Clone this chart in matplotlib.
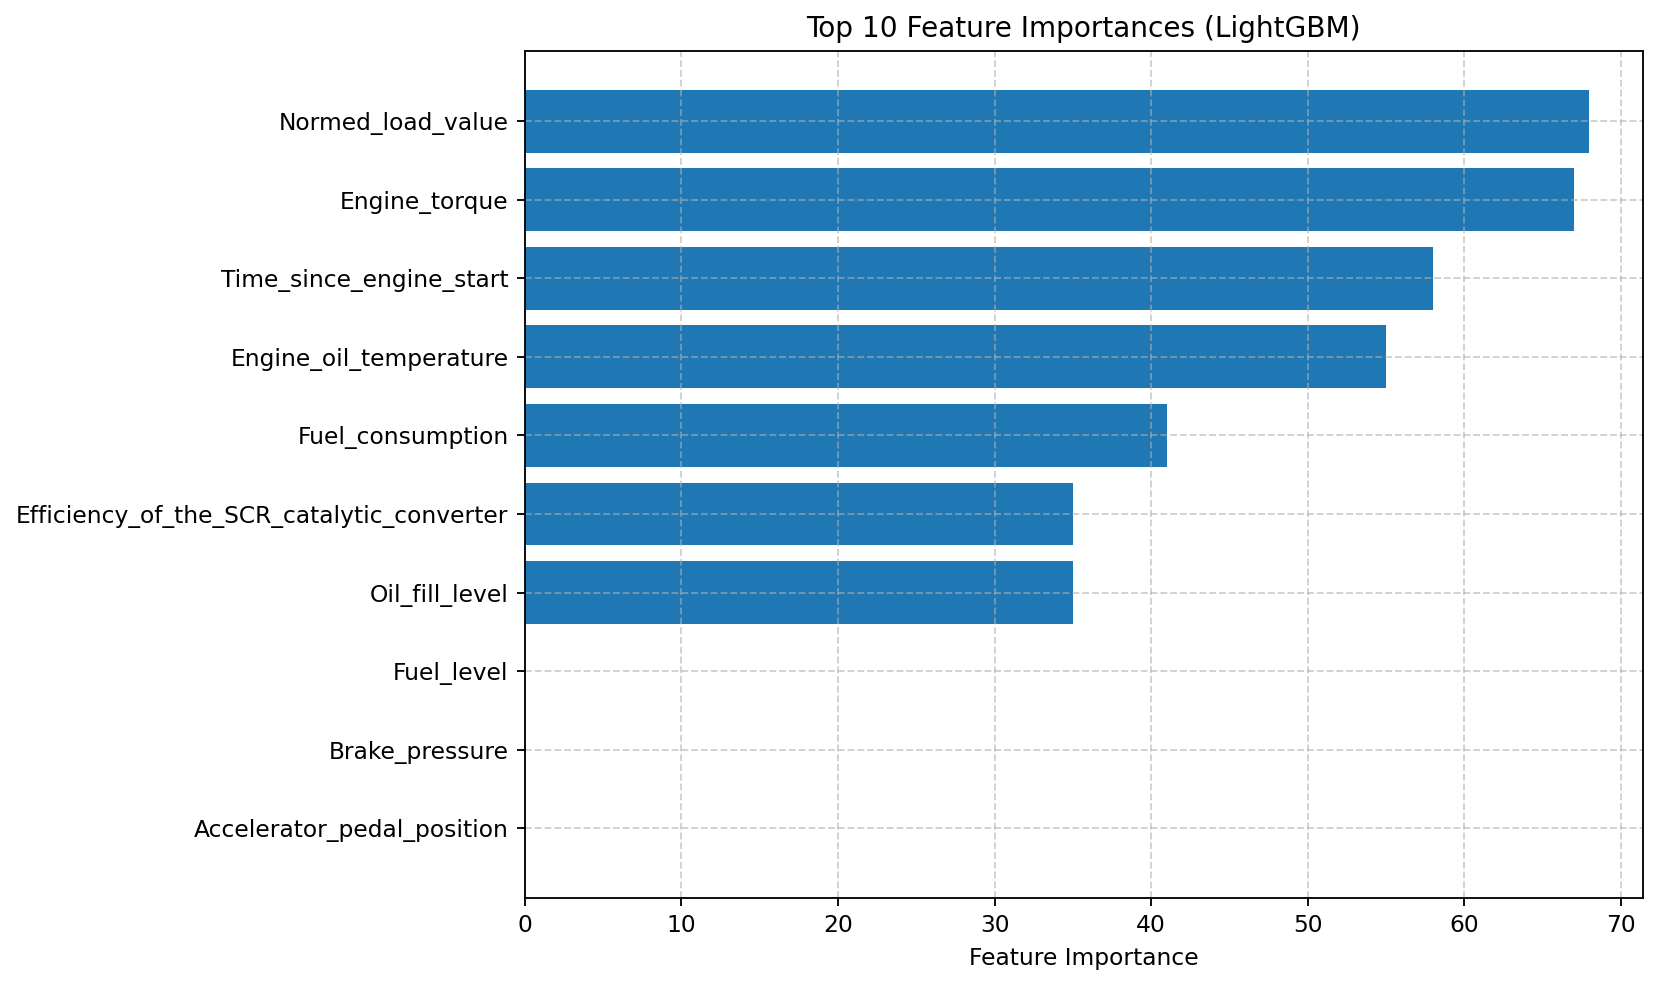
import matplotlib
matplotlib.use("Agg")
import matplotlib.pyplot as plt

features = [
    "Normed_load_value",
    "Engine_torque",
    "Time_since_engine_start",
    "Engine_oil_temperature",
    "Fuel_consumption",
    "Efficiency_of_the_SCR_catalytic_converter",
    "Oil_fill_level",
    "Fuel_level",
    "Brake_pressure",
    "Accelerator_pedal_position",
]
importances = [68, 67, 58, 55, 41, 35, 35, 0, 0, 0]

plt.rcParams["font.size"] = 10.13

fig, ax = plt.subplots(figsize=(1661 / 166, 987 / 166), dpi=166)
ax.barh(features[::-1], importances[::-1], color="#1f77b4")
ax.set_title("Top 10 Feature Importances (LightGBM)")
ax.set_xlabel("Feature Importance")
ax.grid(True, linestyle="--", alpha=0.6)
fig.subplots_adjust(left=0.316, right=0.989, top=0.948, bottom=0.09)
fig.savefig("out.png", dpi=166)
